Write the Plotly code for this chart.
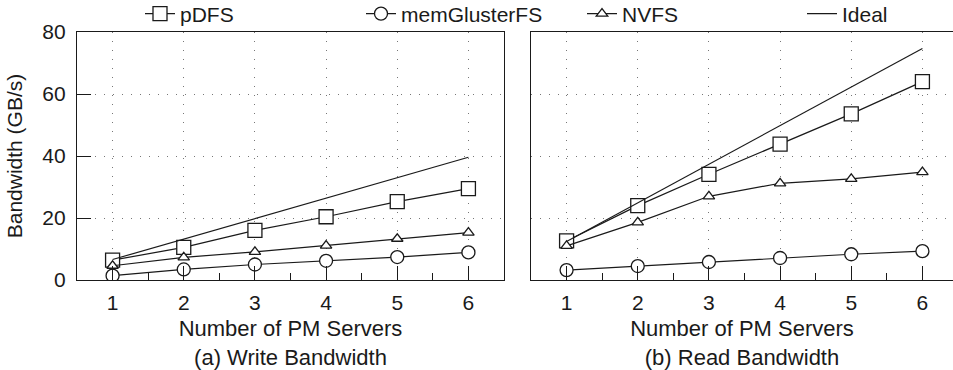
import plotly.graph_objects as go

servers = [1, 2, 3, 4, 5, 6]

write_pdfs = [6.4, 10.5, 16.0, 20.4, 25.3, 29.5]
write_mem = [1.4, 3.4, 5.0, 6.2, 7.4, 8.9]
write_nvfs = [4.6, 7.3, 9.1, 11.1, 13.3, 15.3]
write_ideal = [6.6, 13.2, 19.8, 26.4, 33.0, 39.6]

read_pdfs = [12.6, 24.0, 34.1, 43.8, 53.6, 64.0]
read_mem = [3.2, 4.5, 5.8, 7.1, 8.3, 9.3]
read_nvfs = [11.0, 18.6, 27.0, 31.2, 32.6, 34.8]
read_ideal = [12.45, 24.9, 37.35, 49.8, 62.25, 74.7]

series_names = ["pDFS", "memGlusterFS", "NVFS", "Ideal"]
y_ticks = [0, 20, 40, 60, 80]
x_title = "Number of PM Servers"
panel_titles = ["(a) Write Bandwidth", "(b) Read Bandwidth"]
y_title = "Bandwidth (GB/s)"

FONT = "Liberation Sans, Arial, sans-serif"
INK = "#1a1a1a"
W, H = 953, 370
ML, MT, MB = 77, 32, 90
plot_w = W - ML
plot_h = H - MT - MB

symbols = {"pDFS": ("square", 14), "memGlusterFS": ("circle", 13),
           "NVFS": ("triangle-up", 10)}

fig = go.Figure()

panels = [
    ("x", "y", [write_pdfs, write_mem, write_nvfs, write_ideal], True),
    ("x2", "y2", [read_pdfs, read_mem, read_nvfs, read_ideal], False),
]
for xa, ya, data, show in panels:
    for name, vals in zip(series_names, data):
        if name == "Ideal":
            fig.add_trace(go.Scatter(x=servers, y=vals, name=name, mode="lines",
                                     line=dict(color=INK, width=1.2),
                                     xaxis=xa, yaxis=ya, showlegend=show,
                                     legend="legend2"))
        else:
            sym, sz = symbols[name]
            fig.add_trace(go.Scatter(x=servers, y=vals, name=name, mode="lines+markers",
                                     line=dict(color=INK, width=1.2),
                                     marker=dict(symbol=sym, size=sz, color="white",
                                                 line=dict(color=INK, width=1.3)),
                                     xaxis=xa, yaxis=ya, showlegend=show,
                                     legend="legend"))

d1 = (504 - ML) / plot_w
d2 = (531 - ML) / plot_w
unit = (504 - ML) / 6.0
r2 = 0.5 + (W - 531) / unit

common_x = dict(tickvals=servers, ticks="inside", ticklen=14, tickwidth=1, tickcolor=INK,
                showline=True, linecolor=INK, linewidth=1.2, mirror=True,
                showgrid=True, gridcolor="#777", griddash="1px,8px", gridwidth=1,
                zeroline=False, ticklabelstandoff=4,
                tickfont=dict(family=FONT, size=21, color=INK),
                minor=dict(ticks="inside", ticklen=7, tickwidth=1, tickcolor=INK,
                           tick0=0.5, dtick=0.5, showgrid=False))
common_y = dict(range=[0, 80], tickvals=y_ticks, showline=True, linecolor=INK, linewidth=1.2,
                showgrid=True, gridcolor="#777", griddash="1px,8px", gridwidth=1,
                zeroline=False, tickfont=dict(family=FONT, size=21, color=INK))

leg_common = dict(orientation="h", xanchor="left", yanchor="middle",
                  y=1 + (MT - 14) / plot_h,
                  font=dict(family=FONT, size=21, color=INK),
                  bgcolor="rgba(0,0,0,0)", itemwidth=30)

fig.update_layout(
    width=W, height=H,
    margin=dict(l=ML, r=0, t=MT, b=MB, autoexpand=False),
    paper_bgcolor="white", plot_bgcolor="white",
    font=dict(family=FONT, size=21, color=INK),
    xaxis=dict(domain=[0, d1], range=[0.5, 6.5], anchor="y", **common_x,
               title=dict(text=x_title + "<br>" + panel_titles[0],
                          font=dict(family=FONT, size=22, color=INK), standoff=11)),
    yaxis=dict(domain=[0, 1], anchor="x", mirror=True, ticks="inside", ticklen=14,
               tickcolor=INK, ticklabelstandoff=6,
               title=dict(text=y_title, font=dict(family=FONT, size=21, color=INK), standoff=13),
               **common_y),
    xaxis2=dict(domain=[d2, 1], range=[0.5, r2], anchor="y2", **common_x,
                title=dict(text=x_title + "<br>" + panel_titles[1],
                           font=dict(family=FONT, size=22, color=INK), standoff=11)),
    yaxis2=dict(domain=[0, 1], anchor="x2", mirror=False, ticks="", showticklabels=False,
                **common_y),
    legend=dict(x=(140 - ML) / plot_w, entrywidth=176, entrywidthmode="pixels", **leg_common),
    legend2=dict(x=(802 - ML) / plot_w, **leg_common),
)

fig.write_html("out.html")
